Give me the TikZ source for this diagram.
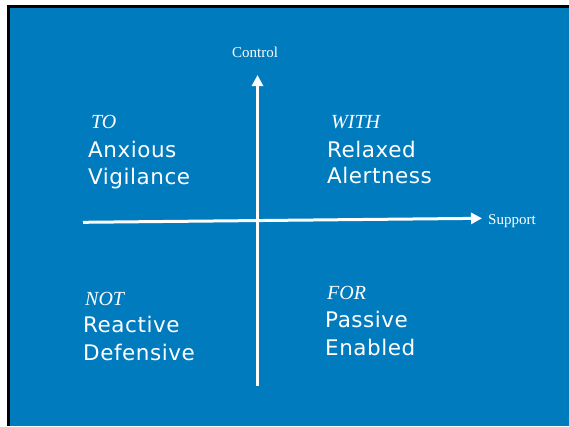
\documentclass[tikz,border=0pt]{standalone}
\usepackage{fontspec}
\setmainfont{Liberation Serif}
\newfontfamily\quadfont{DejaVu Sans}[LetterSpace=2.5]
\usetikzlibrary{arrows.meta}
\definecolor{slideblue}{RGB}{0,123,190}

\begin{document}
\begin{tikzpicture} [
  x=1pt, y=-1pt,
  every node/.style={text=white, inner sep=0},
  axis/.style={draw=white, line width=3pt, -{Triangle[length=11pt,width=11pt]}},
  mode/.style={anchor=base west, font=\itshape\fontsize{20}{20}\selectfont},
  state/.style={anchor=base west, font=\quadfont\fontsize{21.5}{21.5}\selectfont},
  axislabel/.style={font=\fontsize{15}{15}\selectfont}
  ]
  % slide frame
  \useasboundingbox (0,0) rectangle (569,426);
  \fill[black] (7,5) rectangle (569,426);
  \fill[slideblue] (10,8) rectangle (569,426);

  % axes
  \coordinate (s0) at (83,222.3);
  \coordinate (s1) at (482,218.3);
  \coordinate (c0) at (257.5,386);
  \coordinate (c1) at (257.5,75);
  \draw[axis] (s0) -- (s1);
  \draw[axis] (c0) -- (c1);
  \node (control) [axislabel] at (255,52) {Control};
  \node (support) [axislabel, anchor=base west] at (488,224) {Support};

  % top left
  \node (to) [mode] at (91,128) {TO};
  \node (anxious) [state] at (88,157) {Anxious};
  \node (vigilance) [state] at (88,184) {Vigilance};
  % top right
  \node (with) [mode] at (331,128) {WITH};
  \node (relaxed) [state] at (327,157) {Relaxed};
  \node (alertness) [state] at (327,183) {Alertness};
  % bottom left
  \node (not) [mode] at (85,305) {NOT};
  \node (reactive) [state] at (83,332) {Reactive};
  \node (defensive) [state] at (83,360) {Defensive};
  % bottom right
  \node (for) [mode] at (327,299) {FOR};
  \node (passive) [state] at (325,327) {Passive};
  \node (enabled) [state] at (325,355) {Enabled};
\end{tikzpicture}
\end{document}
